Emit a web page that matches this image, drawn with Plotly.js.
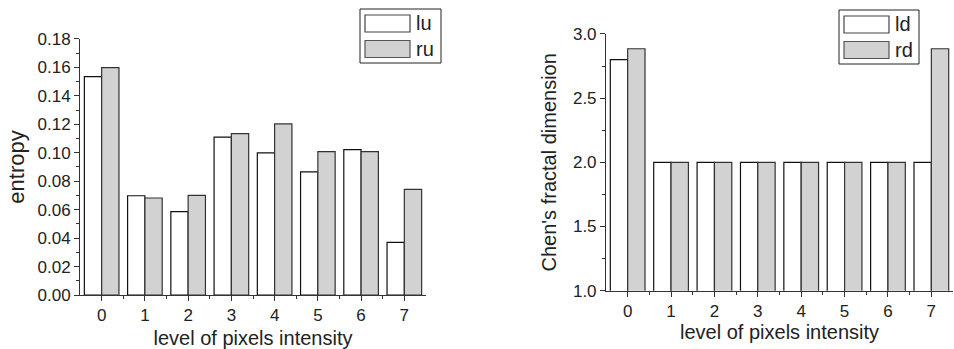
<!DOCTYPE html>
<html>
<head>
<meta charset="utf-8">
<script src="https://cdn.plot.ly/plotly-3.0.1.min.js"></script>
<style>html,body{margin:0;padding:0;background:#fff;}#chart{width:954px;height:349px;}</style>
</head>
<body>
<div id="chart"></div>
<script>
const levels = [0, 1, 2, 3, 4, 5, 6, 7];
const tickLabels = ["0", "1", "2", "3", "4", "5", "6", "7"];
const entropyNames = ["lu", "ru"];
const fractalNames = ["ld", "rd"];
const entropyLU = [0.1535, 0.0698, 0.0586, 0.1110, 0.0999, 0.0865, 0.1022, 0.0370];
const entropyRU = [0.1599, 0.0682, 0.0701, 0.1134, 0.1203, 0.1008, 0.1008, 0.0743];
const fractalLD = [2.80, 2.00, 2.00, 2.00, 2.00, 2.00, 2.00, 2.00];
const fractalRD = [2.885, 2.00, 2.00, 2.00, 2.00, 2.00, 2.00, 2.885];

const FONT = '"Liberation Sans", Arial, Helvetica, sans-serif';
const INK = '#222';
const WHITE = '#ffffff', GRAY = '#d2d2d2';
const whiteBar = {color: WHITE, line: {color: '#111', width: 1.2}};
const grayBar = {color: GRAY, line: {color: '#333', width: 1.2}};

const traces = [
  {type: 'bar', name: entropyNames[0], x: levels, y: entropyLU, marker: whiteBar, xaxis: 'x', yaxis: 'y'},
  {type: 'bar', name: entropyNames[1], x: levels, y: entropyRU, marker: grayBar, xaxis: 'x', yaxis: 'y'},
  {type: 'bar', name: fractalNames[0], x: levels, y: fractalLD, marker: whiteBar, xaxis: 'x2', yaxis: 'y2'},
  {type: 'bar', name: fractalNames[1], x: levels, y: fractalRD, marker: grayBar, xaxis: 'x2', yaxis: 'y2'}
];

function xAxis(domain, anchor, standoff) {
  return {
    domain: domain, anchor: anchor, range: [-0.5, 7.5],
    tickmode: 'array', tickvals: levels, ticktext: tickLabels,
    ticks: 'outside', ticklen: 5, tickwidth: 1, tickcolor: '#333',
    minor: {tickmode: 'array', tickvals: [0.5, 1.5, 2.5, 3.5, 4.5, 5.5, 6.5], ticks: 'outside', ticklen: 3, tickcolor: '#333'},
    showline: true, linecolor: '#333', linewidth: 1, showgrid: false, zeroline: false,
    tickfont: {size: 17, color: INK, family: FONT},
    title: {text: 'level of pixels intensity', font: {size: 20, color: INK, family: FONT}, standoff: standoff},
    automargin: false, fixedrange: true
  };
}

// Legend boxes drawn in paper pixels (decoration only)
function px(x) { return x / 954; }
function py(y) { return 1 - y / 349; }
const shapes = [];
const annotations = [];
function legendBox(x0, y0, x1, y1, names, fills, lines) {
  shapes.push({type: 'rect', xref: 'paper', yref: 'paper', x0: px(x0), x1: px(x1), y0: py(y1), y1: py(y0),
    line: {color: '#222', width: 1}, fillcolor: '#fff', layer: 'above'});
  names.forEach((n, i) => {
    const top = y0 + 6 + i * 25.5;
    shapes.push({type: 'rect', xref: 'paper', yref: 'paper', x0: px(x0 + 5), x1: px(x0 + 50), y0: py(top + 17), y1: py(top),
      line: {color: lines[i], width: 1.2}, fillcolor: fills[i], layer: 'above'});
    annotations.push({xref: 'paper', yref: 'paper', x: px(x0 + 54), y: py(top + 8.5), xanchor: 'left', yanchor: 'middle',
      text: n, showarrow: false, font: {size: 20, color: INK, family: FONT}});
  });
}
legendBox(360, 9, 441, 63, entropyNames, [WHITE, GRAY], ['#444', '#555']);
legendBox(839, 10, 919, 64, fractalNames, [WHITE, GRAY], ['#444', '#555']);

const layout = {
  width: 954, height: 349,
  margin: {l: 0, r: 0, t: 0, b: 0},
  paper_bgcolor: '#fff', plot_bgcolor: '#fff',
  font: {family: FONT, color: INK},
  barmode: 'group', bargap: 0.2, bargroupgap: 0,
  showlegend: false,
  shapes: shapes, annotations: annotations,
  xaxis: xAxis([0.0839, 0.4465], 'y', 12),
  xaxis2: xAxis([0.6352, 0.999], 'y2', 4),
  yaxis: {
    domain: [0.1547, 0.8883], anchor: 'x', range: [0, 0.18],
    tickmode: 'linear', tick0: 0, dtick: 0.02, tickformat: '.2f',
    ticks: 'outside', ticklen: 5, tickwidth: 1, tickcolor: '#333',
    minor: {dtick: 0.01, ticks: 'outside', ticklen: 3, tickcolor: '#333'},
    showline: true, linecolor: '#333', linewidth: 1, showgrid: false, zeroline: false,
    tickfont: {size: 17, color: INK, family: FONT},
    title: {text: 'entropy', font: {size: 22, color: INK, family: FONT}, standoff: 6},
    automargin: false, fixedrange: true
  },
  yaxis2: {
    domain: [0.1671, 0.9026], anchor: 'x2', range: [1, 3],
    tickmode: 'linear', tick0: 1, dtick: 0.5, tickformat: '.1f',
    ticks: 'outside', ticklen: 5, tickwidth: 1, tickcolor: '#333',
    minor: {dtick: 0.25, ticks: 'outside', ticklen: 3, tickcolor: '#333'},
    showline: true, linecolor: '#333', linewidth: 1, showgrid: false, zeroline: false,
    tickfont: {size: 17, color: INK, family: FONT},
    title: {text: "Chen's fractal dimension", font: {size: 20, color: INK, family: FONT}, standoff: 10},
    automargin: false, fixedrange: true
  }
};

Plotly.newPlot('chart', traces, layout, {displayModeBar: false, staticPlot: true});
</script>
</body>
</html>
